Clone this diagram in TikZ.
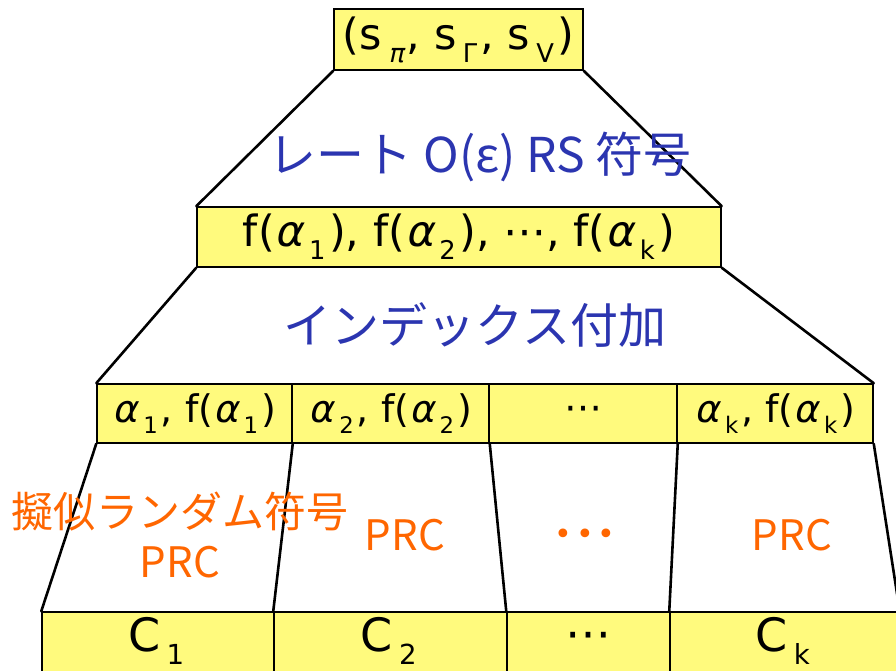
\documentclass[tikz,border=0pt]{standalone}
\usepackage{fontspec}
\setmainfont{DejaVu Sans}
\newfontfamily\jpfont{Noto Sans CJK JP}
\newfontfamily\grk[FakeSlant=0.22]{DejaVu Sans}
\definecolor{boxyellow}{RGB}{255,250,125}
\definecolor{titleblue}{RGB}{43,53,176}
\definecolor{prcorange}{RGB}{255,102,0}
\newcommand{\al}{{\grk α}}
\makeatletter
\newcommand{\sbs}[1]{\kern0.14em\raisebox{-0.3em}{\fontsize{\fpeval{0.6*\f@size}}{\fpeval{0.6*\f@size}}\selectfont #1}\kern0.08em}
\makeatother
\tikzset{
  cell/.style={draw=black, line width=1.5pt, fill=boxyellow, rectangle, inner sep=0pt},
  bigtext/.style={font=\fontsize{43}{43}\selectfont},
  rowtext/.style={font=\fontsize{38}{38}\selectfont},
  ctext/.style={font=\fontsize{46}{46}\selectfont},
  conn/.style={line width=2.6pt, line cap=round},
  bluelabel/.style={text=titleblue, font=\jpfont\fontsize{48}{48}\selectfont, inner sep=0pt},
  orangelabel/.style={text=prcorange, font=\jpfont\fontsize{42}{42}\selectfont, inner sep=0pt, align=center},
}
\begin{document}
\begin{tikzpicture}[x=1pt,y=-1pt]
\useasboundingbox (0,0) rectangle (896,670);
\clip (0,0) rectangle (896,670);
% top box
\node[cell, bigtext, minimum width=249pt, minimum height=61pt] (top) at (458.5,39.5)
  {(s\sbs{\grk π}, s\sbs{Γ}, s\sbs{V})};
% middle box
\node[cell, bigtext, minimum width=524pt, minimum height=60pt] (mid) at (459,237)
  {f(\al\sbs{1}), f(\al\sbs{2}), ⋯, f(\al\sbs{k})};
% third row
\node[cell, rowtext, minimum width=195pt, minimum height=59pt] (r1) at (194.5,413.5) {\al\sbs{1}, f(\al\sbs{1})};
\node[cell, rowtext, minimum width=197pt, minimum height=59pt] (r2) at (390.5,413.5) {\al\sbs{2}, f(\al\sbs{2})};
\node[cell, rowtext, minimum width=188pt, minimum height=59pt] (r3) at (583,413.5) {⋯};
\node[cell, rowtext, minimum width=196pt, minimum height=59pt] (r4) at (775,413.5) {\al\sbs{k}, f(\al\sbs{k})};
% bottom row
\node[cell, minimum width=232pt, minimum height=68pt] (b1) at (158,646) {};
\node[cell, minimum width=233pt, minimum height=68pt] (b2) at (390.5,646) {};
\node[cell, minimum width=163pt, minimum height=68pt] (b3) at (588.5,646) {};
\node[cell, minimum width=229pt, minimum height=68pt] (b4) at (784.5,646) {};
\node[ctext, inner sep=0pt] (c1) at (158,641) {C\sbs{1}};
\node[ctext, inner sep=0pt] (c2) at (390.5,641) {C\sbs{2}};
\node[ctext, inner sep=0pt] (c3) at (588.5,641) {⋯};
\node[ctext, inner sep=0pt] (c4) at (784.5,641) {C\sbs{k}};
% connectors
\draw[conn] (top.south west) -- (mid.north west);
\draw[conn] (top.south east) -- (mid.north east);
\draw[conn] (mid.south west) -- (r1.north west);
\draw[conn] (mid.south east) -- (r4.north east);
\draw[conn] (r1.south west) -- (b1.north west);
\draw[conn] (r1.south east) -- (b2.north west);
\draw[conn] (r2.south east) -- (b3.north west);
\draw[conn] (r3.south east) -- (b4.north west);
\draw[conn] (r4.south east) -- (b4.north east);
% labels
\node[bluelabel] (rs) at (480,157) {レート O(ε) RS 符号};
\node[bluelabel] (idx) at (475,325) {インデックス付加};
\node[orangelabel] (prc1) at (180,512) {擬似ランダム符号};
\node[orangelabel] (prc1b) at (180,562) {PRC};
\node[orangelabel] (prc2) at (405,535) {PRC};
\node[text=prcorange, font=\fontsize{30}{30}\selectfont, inner sep=0pt] (dots) at (585,537) {•\kern4pt•\kern4pt•};
\node[orangelabel] (prck) at (792,535) {PRC};
\end{tikzpicture}
\end{document}
